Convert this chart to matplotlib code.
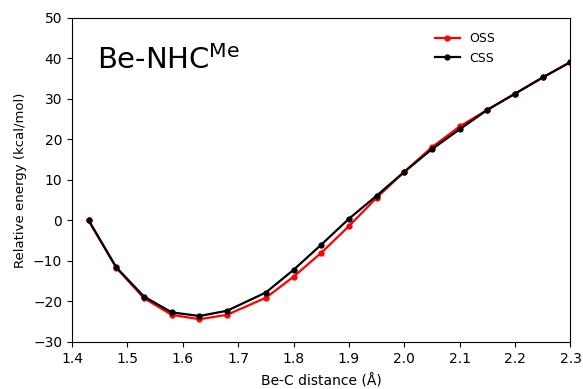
import matplotlib
matplotlib.use("Agg")
import matplotlib.pyplot as plt

# Be-C scan distances (Å) and relative energies (kcal/mol)
distance = [1.43, 1.48, 1.53, 1.58, 1.63, 1.68, 1.75, 1.80, 1.85, 1.90,
            1.95, 2.00, 2.05, 2.10, 2.15, 2.20, 2.25, 2.30]
oss = [0.0, -11.7, -19.2, -23.3, -24.4, -23.3, -19.1, -13.9, -8.0, -1.4,
       5.6, 12.0, 18.1, 23.2, 27.3, 31.3, 35.3, 39.1]
css = [0.0, -11.6, -18.8, -22.7, -23.6, -22.3, -17.8, -12.2, -6.0, 0.4,
       6.1, 12.0, 17.6, 22.5, 27.3, 31.3, 35.3, 39.1]

fig = plt.figure(figsize=(5.83, 3.89), dpi=100)
ax = fig.add_axes([0.1235, 0.121, 0.855, 0.833])

ax.plot(distance, oss, color="red", marker="o", markersize=3.5, linewidth=1.6, label="OSS")
ax.plot(distance, css, color="black", marker="o", markersize=3.5, linewidth=1.6, label="CSS")

ax.set_xlim(1.4, 2.3)
ax.set_ylim(-30, 50)
ax.set_xticks([1.4, 1.5, 1.6, 1.7, 1.8, 1.9, 2.0, 2.1, 2.2, 2.3])
ax.set_yticks([-30, -20, -10, 0, 10, 20, 30, 40, 50])
ax.tick_params(labelsize=10)
ax.set_xlabel("Be-C distance (Å)", fontsize=10, labelpad=6)
ax.set_ylabel("Relative energy (kcal/mol)", fontsize=9.5)

ax.text(0.05, 0.87, r"Be-NHC$^{\mathrm{Me}}$", transform=ax.transAxes,
        fontsize=21, va="center", ha="left")

ax.legend(loc="upper right", bbox_to_anchor=(0.872, 0.99), frameon=False,
          fontsize=9, labelspacing=0.5, handlelength=2.0)

fig.savefig("out.png", dpi=100)
